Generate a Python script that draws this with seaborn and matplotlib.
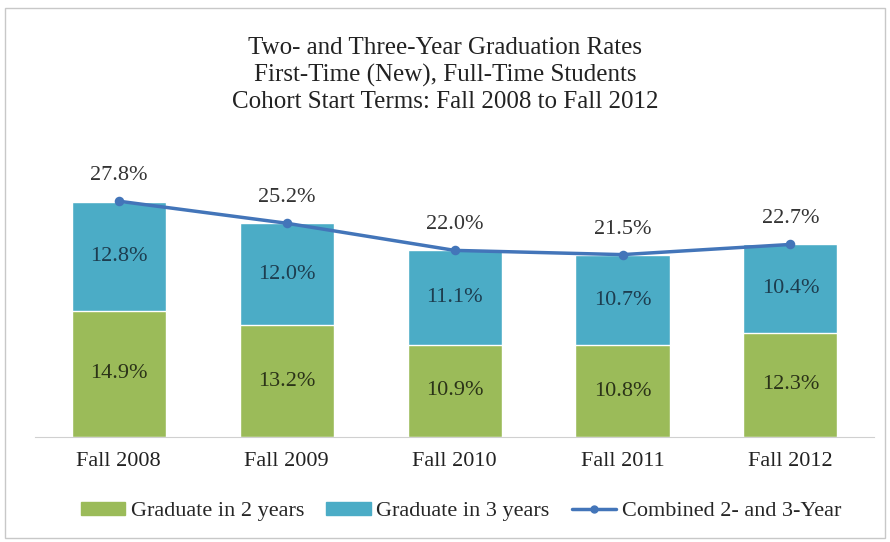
import seaborn as sns
import matplotlib.pyplot as plt
from matplotlib.patches import Patch, Rectangle
from matplotlib.lines import Line2D

terms = ["Fall 2008", "Fall 2009", "Fall 2010", "Fall 2011", "Fall 2012"]
grad_2yr = [14.9, 13.2, 10.9, 10.8, 12.3]
grad_3yr = [12.8, 12.0, 11.1, 10.7, 10.4]
combined = [27.8, 25.2, 22.0, 21.5, 22.7]

green = "#9BBB59"
blue = "#4BACC6"
line_c = "#4375B9"

sns.set_style("white")
plt.rcParams["font.family"] = ["Liberation Serif", "DejaVu Serif"]

fig = plt.figure(figsize=(8.9, 5.42), dpi=100)
ax = fig.add_axes([0.039, 0.1937, 0.9435, 0.54])

stack_top = [a + b for a, b in zip(grad_2yr, grad_3yr)]
sns.barplot(x=terms, y=stack_top, color=blue, width=0.56, saturation=1, ax=ax)
sns.barplot(x=terms, y=grad_2yr, color=green, width=0.56, saturation=1, ax=ax)
sns.pointplot(x=terms, y=combined, color=line_c, markers="o", markersize=5,
              linewidth=2.5, ax=ax)

for i in range(len(terms)):
    ax.text(i, grad_2yr[i] / 2, f"{grad_2yr[i]:.1f}%", ha="center", va="center",
            fontsize=16, color="#2b3318")
    ax.text(i, grad_2yr[i] + grad_3yr[i] / 2, f"{grad_3yr[i]:.1f}%", ha="center",
            va="center", fontsize=16, color="#1d3d4f")
    ax.text(i, combined[i] + 3.0, f"{combined[i]:.1f}%", ha="center", va="center",
            fontsize=16, color="#333333")

ax.set_ylim(0, 34.5)
ax.set_xlim(-0.5, 4.5)
ax.set_yticks([])
ax.set_xlabel("")
ax.set_ylabel("")
for s in ["top", "right", "left"]:
    ax.spines[s].set_visible(False)
ax.spines["bottom"].set_color("#d0d0d0")
ax.tick_params(axis="x", labelsize=16, length=0, pad=11, labelcolor="#222222")

fig.text(0.5, 0.861, "Two- and Three-Year Graduation Rates\nFirst-Time (New), Full-Time Students\n"
         "Cohort Start Terms: Fall 2008 to Fall 2012", ha="center", va="center",
         fontsize=18, linespacing=1.25, color="#222222")

handles = [Patch(color=green), Patch(color=blue),
           Line2D([0], [0], color=line_c, lw=2.5, marker="o", markersize=5)]
labels = ["Graduate in 2 years", "Graduate in 3 years", "Combined 2- and 3-Year"]
fig.legend(handles, labels, loc="center", bbox_to_anchor=(0.518, 0.056), ncol=3,
           frameon=False, fontsize=16, handlelength=2.0, handletextpad=0.25,
           columnspacing=1.0, handleheight=0.5)

fig.patches.append(Rectangle((0.006, 0.007), 0.988, 0.978, transform=fig.transFigure,
                             fill=False, edgecolor="#c8c8c8", lw=1))

fig.savefig("out.png", dpi=100)
